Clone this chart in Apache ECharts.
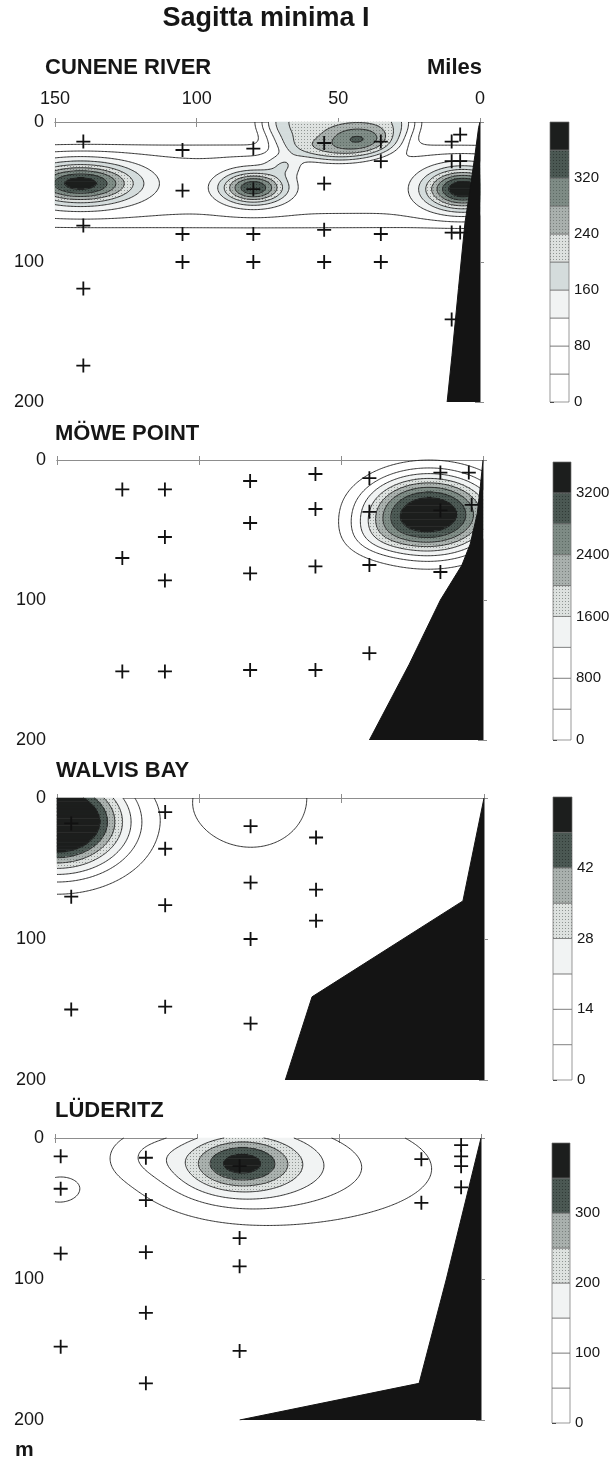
<!DOCTYPE html>
<html>
<head>
<meta charset="utf-8">
<script src="https://cdn.jsdelivr.net/npm/echarts/dist/echarts.min.js"></script>
<style>
  html, body { margin: 0; padding: 0; background: #ffffff; }
  #chart { width: 614px; height: 1461px; }
</style>
</head>
<body>
<div id="chart"></div>
<script>
// ---------------------------------------------------------------
// Sagitta minima I – vertical sections off the Namibian coast.
// Distance offshore (miles) on x, depth (m) on y.
// ---------------------------------------------------------------

const mileTicks = [150, 100, 50, 0];
const depthTicks = [0, 100, 200];

// Sampling stations [miles offshore, depth m]
const cuneneStations = [
  [140, 14], [140, 74], [140, 119], [140, 174],
  [105, 20], [105, 49], [105, 80], [105, 100],
  [80, 19], [80, 48], [80, 80], [80, 100],
  [55, 15], [55, 44], [55, 77], [55, 100],
  [35, 14], [35, 28], [35, 80], [35, 100],
  [10, 14], [7, 9], [10, 28], [7, 28], [10, 79], [7, 79], [10, 141]
];
const moweStations = [
  [127, 21], [127, 70], [127, 151],
  [112, 21], [112, 55], [112, 86], [112, 151],
  [82, 15], [82, 45], [82, 81], [82, 150],
  [59, 10], [59, 35], [59, 76], [59, 150],
  [40, 13], [40, 37], [40, 75], [40, 138],
  [15, 9], [15, 36], [15, 80],
  [5, 9], [4, 32]
];
const walvisStations = [
  [145, 18], [145, 70], [145, 150],
  [112, 10], [112, 36], [112, 76], [112, 148],
  [82, 20], [82, 60], [82, 100], [82, 160],
  [59, 28], [59, 65], [59, 87]
];
const luderitzStations = [
  [148, 13], [148, 36], [148, 82], [148, 148],
  [118, 14], [118, 44], [118, 81], [118, 124], [118, 174],
  [85, 20], [85, 71], [85, 91], [85, 151],
  [21, 15], [21, 46],
  [7, 5], [7, 13], [7, 20], [7, 35]
];

// Sea-floor profile [miles offshore, depth m]
const cuneneBottom = [[0, 0], [0.5, 4], [1.8, 24], [3.5, 48], [5.3, 72], [7.6, 119], [9.9, 167], [11.6, 200]];
const moweBottom = [[0, 0], [1, 20], [2, 38], [4.5, 60], [7.4, 75], [15, 100], [26, 146], [40, 200]];
const walvisBottom = [[0, 0], [7.4, 73], [60.4, 141], [69.8, 200]];
const luderitzBottom = [[0, 0], [12.2, 100], [21.8, 174], [85, 200]];

// Abundance patches [miles, depth, peak abundance, half-width miles, half-depth m, shape exponent]
const cunenePatches = [
  [141, 44, 300, 19, 14, 2],
  [80, 47, 275, 11, 11, 2],
  [69, 30, 70, 6, 8, 2],
  [50, 0, 215, 27, 27, 6],
  [43, 11, 100, 11, 9, 2],
  [6, 48, 320, 13, 14, 2],
  [75, 46, 85, 400, 31, 6]
];
const mowePatches = [
  [19, 39, 3650, 22.5, 28, 2.4],
  [38, 56, 330, 12, 14, 2]
];
const walvisPatches = [
  [150, 17, 58, 23, 33, 2.5],
  [150, 17, 9, 42, 58, 2],
  [80, 0, 9, 24.7, 46, 4]
];
const luderitzPatches = [
  [85, 18, 170, 17, 18, 2],
  [85, 18, 130, 30, 30, 2],
  [62, 22, 95, 55, 42, 2],
  [118, 12, 40, 14, 16, 2],
  [149, 37, 60, 11, 15, 2]
];

// Contour levels and legend tick labels
const cuneneLevels = [0, 40, 80, 120, 160, 200, 240, 280, 320, 360, 400];
const moweLevels = [0, 400, 800, 1200, 1600, 2000, 2400, 2800, 3200, 3600];
const walvisLevels = [0, 7, 14, 21, 28, 35, 42, 49, 56];
const luderitzLevels = [0, 50, 100, 150, 200, 250, 300, 350, 400];
const cuneneLegendTicks = [0, 80, 160, 240, 320];
const moweLegendTicks = [0, 800, 1600, 2400, 3200];
const walvisLegendTicks = [0, 14, 28, 42];
const luderitzLegendTicks = [0, 100, 200, 300];

// ---------------------------------------------------------------
const FONT = '"Liberation Sans", Arial, Helvetica, sans-serif';
const INK = '#161616';
const AXIS_GREY = '#8d8d8d';

function dots(bg, dot) {
  const c = document.createElement('canvas');
  c.width = 3; c.height = 3;
  const g = c.getContext('2d');
  g.fillStyle = bg; g.fillRect(0, 0, 3, 3);
  g.fillStyle = dot; g.fillRect(1, 1, 1, 1);
  return { image: c, repeat: 'repeat' };
}
const SHADE = {
  white: '#ffffff',
  pale: '#f1f3f3',
  mist: '#d4dcdc',
  stipple: dots('#dde1df', '#8f9592'),
  grey: dots('#a9b0ad', '#7a817e'),
  slate: dots('#7e8b85', '#5d6a64'),
  dark: dots('#4b5853', '#303a36'),
  black: '#1c1e1d'
};

const panels = [
  { name: 'CUNENE RIVER', stations: cuneneStations, bottom: cuneneBottom, patches: cunenePatches,
    levels: cuneneLevels, legendTicks: cuneneLegendTicks,
    shades: ['white', 'white', 'white', 'pale', 'mist', 'stipple', 'grey', 'slate', 'dark', 'black'],
    box: { left: 55, top: 122, width: 425, height: 280 }, nameX: 45, nameY: 67.5,
    bar: { left: 550, top: 122, width: 19, height: 280 }, topLabels: true },
  { name: 'MÖWE POINT', stations: moweStations, bottom: moweBottom, patches: mowePatches,
    levels: moweLevels, legendTicks: moweLegendTicks,
    shades: ['white', 'white', 'white', 'pale', 'stipple', 'grey', 'slate', 'dark', 'black'],
    box: { left: 57, top: 460, width: 426, height: 280 }, nameX: 55, nameY: 434,
    bar: { left: 553, top: 462, width: 18, height: 278 }, topLabels: false },
  { name: 'WALVIS BAY', stations: walvisStations, bottom: walvisBottom, patches: walvisPatches,
    levels: walvisLevels, legendTicks: walvisLegendTicks,
    shades: ['white', 'white', 'white', 'pale', 'stipple', 'grey', 'dark', 'black'],
    box: { left: 57, top: 798, width: 427, height: 282 }, nameX: 56, nameY: 770.5,
    bar: { left: 553, top: 797, width: 19, height: 283 }, topLabels: false },
  { name: 'LÜDERITZ', stations: luderitzStations, bottom: luderitzBottom, patches: luderitzPatches,
    levels: luderitzLevels, legendTicks: luderitzLegendTicks,
    shades: ['white', 'white', 'white', 'pale', 'stipple', 'grey', 'dark', 'black'],
    box: { left: 55, top: 1138, width: 426, height: 282 }, nameX: 55, nameY: 1111,
    bar: { left: 552, top: 1143, width: 18, height: 280 }, topLabels: false }
];

// ---- abundance surface on a regular mile/depth lattice ----
const DX = 0.5, DD = 1, MAXMILE = 150, MAXDEPTH = 200;
const NX = Math.round(MAXMILE / DX) + 1, ND = Math.round(MAXDEPTH / DD) + 1;

function surface(patches) {
  const F = [];
  for (let j = 0; j < ND; j++) {
    const d = j * DD;
    const row = new Float64Array(NX);
    for (let i = 0; i < NX; i++) {
      const m = i * DX;
      let v = 0;
      for (const [pm, pd, a, sx, sd, p] of patches) {
        const r2 = ((m - pm) / sx) ** 2 + ((d - pd) / sd) ** 2;
        v += a * Math.exp(-Math.pow(r2, p / 2));
      }
      row[i] = v;
    }
    F.push(row);
  }
  return F;
}

function bandOf(v, levels) {
  const n = levels.length - 1;
  for (let k = n - 1; k >= 0; k--) if (v >= levels[k]) return k;
  return 0;
}

// Horizontal runs of equal band, used for the shaded fill
function fillRuns(F, levels, shades) {
  const items = [];
  for (let j = 0; j < ND; j++) {
    const d0 = Math.max(0, j * DD - DD / 2), d1 = Math.min(MAXDEPTH, j * DD + DD / 2);
    let start = 0, cur = bandOf(F[j][0], levels);
    for (let i = 1; i <= NX; i++) {
      const b = i < NX ? bandOf(F[j][i], levels) : -1;
      if (b !== cur) {
        if (shades[cur] !== 'white') {
          items.push([Math.max(0, start * DX - DX / 2), Math.min(MAXMILE, (i - 1) * DX + DX / 2), d0, d1, cur]);
        }
        start = i; cur = b;
      }
    }
  }
  return items;
}

// Marching squares → polylines for one level
function isolines(F, L) {
  const segs = [];
  const hx = (i, j) => { const a = F[j][i], b = F[j][i + 1]; const t = (L - a) / (b - a); return [(i + t) * DX, j * DD]; };
  const vy = (i, j) => { const a = F[j][i], b = F[j + 1][i]; const t = (L - a) / (b - a); return [i * DX, (j + t) * DD]; };
  for (let j = 0; j < ND - 1; j++) {
    for (let i = 0; i < NX - 1; i++) {
      const a = F[j][i] >= L, b = F[j][i + 1] >= L, c = F[j + 1][i + 1] >= L, d = F[j + 1][i] >= L;
      const code = (a ? 8 : 0) | (b ? 4 : 0) | (c ? 2 : 0) | (d ? 1 : 0);
      if (code === 0 || code === 15) continue;
      const top = a !== b ? hx(i, j) : null;
      const right = b !== c ? vy(i + 1, j) : null;
      const bot = d !== c ? hx(i, j + 1) : null;
      const left = a !== d ? vy(i, j) : null;
      const pts = [top, right, bot, left].filter(Boolean);
      if (pts.length === 2) segs.push([pts[0], pts[1]]);
      else if (pts.length === 4) {
        const centre = (F[j][i] + F[j][i + 1] + F[j + 1][i + 1] + F[j + 1][i]) / 4 >= L;
        if (centre === a) { segs.push([top, right]); segs.push([bot, left]); }
        else { segs.push([top, left]); segs.push([right, bot]); }
      }
    }
  }
  // join segments sharing end points
  const key = p => p[0].toFixed(4) + '_' + p[1].toFixed(4);
  const at = new Map();
  segs.forEach((s, n) => {
    for (const e of [0, 1]) {
      const k = key(s[e]);
      if (!at.has(k)) at.set(k, []);
      at.get(k).push(n);
    }
  });
  const used = new Uint8Array(segs.length);
  const lines = [];
  for (let n = 0; n < segs.length; n++) {
    if (used[n]) continue;
    used[n] = 1;
    let line = [segs[n][0], segs[n][1]];
    for (let pass = 0; pass < 2; pass++) {
      let grow = true;
      while (grow) {
        grow = false;
        const end = line[line.length - 1], ek = key(end);
        for (const c of (at.get(ek) || [])) {
          if (used[c]) continue;
          used[c] = 1;
          const s = segs[c];
          line.push(key(s[0]) === ek ? s[1] : s[0]);
          grow = true;
          break;
        }
      }
      line.reverse();
    }
    lines.push(line);
  }
  return lines;
}

const option = {
  animation: false,
  backgroundColor: '#ffffff',
  grid: [], xAxis: [], yAxis: [], series: [],
  graphic: [
    { type: 'text', x: 266, y: 18.5, style: { text: 'Sagitta minima I', font: 'bold 27px ' + FONT, fill: INK, textAlign: 'center', textVerticalAlign: 'middle' } },
    { type: 'text', x: 482, y: 67.5, style: { text: 'Miles', font: 'bold 22px ' + FONT, fill: INK, textAlign: 'right', textVerticalAlign: 'middle' } },
    { type: 'text', x: 15, y: 1450, style: { text: 'm', font: 'bold 21px ' + FONT, fill: INK, textAlign: 'left', textVerticalAlign: 'middle' } }
  ]
};

const plus = 'path://M0,43.5H100V56.5H0Z M43.5,0H56.5V100H43.5Z';

panels.forEach((P, k) => {
  const g = 2 * k, xa = 3 * k, ya = 3 * k;
  const lv = P.levels, top = lv[lv.length - 1];

  option.graphic.push({ type: 'text', x: P.nameX, y: P.nameY,
    style: { text: P.name, font: 'bold 22px ' + FONT, fill: INK, textAlign: 'left', textVerticalAlign: 'middle' } });

  option.grid.push(Object.assign({ outerBoundsMode: 'none', containLabel: false }, P.box));
  option.grid.push(Object.assign({ outerBoundsMode: 'none', containLabel: false }, P.bar));

  const axisLine = { show: true, lineStyle: { color: AXIS_GREY, width: 1 } };
  option.xAxis.push({
    gridIndex: g, type: 'value', position: 'top', min: 0, max: MAXMILE, interval: 50, inverse: true,
    axisLine, axisTick: { show: true, length: 4, lineStyle: { color: AXIS_GREY } },
    axisLabel: { show: P.topLabels, fontSize: 18, fontFamily: FONT, color: INK, margin: 14,
      formatter: v => mileTicks.includes(v) ? String(v) : '' },
    splitLine: { show: false }
  });
  option.xAxis.push({
    gridIndex: g, type: 'value', position: 'bottom', min: 0, max: MAXMILE, interval: 50, inverse: true,
    axisLine, axisTick: { show: true, length: 5, lineStyle: { color: AXIS_GREY } },
    axisLabel: { show: false }, splitLine: { show: false }
  });
  option.xAxis.push({ gridIndex: g + 1, type: 'value', min: 0, max: 1, show: false });

  option.yAxis.push({
    gridIndex: g, type: 'value', position: 'left', min: 0, max: MAXDEPTH, interval: 100, inverse: true,
    axisLine, axisTick: { show: true, length: 5, lineStyle: { color: AXIS_GREY } },
    axisLabel: { fontSize: 18, fontFamily: FONT, color: INK, margin: 11,
      formatter: v => depthTicks.includes(v) ? String(v) : '' },
    splitLine: { show: false }
  });
  option.yAxis.push({
    gridIndex: g, type: 'value', position: 'right', min: 0, max: MAXDEPTH, interval: 100, inverse: true,
    axisLine, axisTick: { show: true, length: 4, lineStyle: { color: AXIS_GREY } },
    axisLabel: { show: false }, splitLine: { show: false }
  });
  option.yAxis.push({
    gridIndex: g + 1, type: 'value', position: 'right', min: 0, max: top, interval: P.legendTicks[1] - P.legendTicks[0],
    axisLine: { show: false },
    axisTick: { show: true, length: 4, lineStyle: { color: '#3a3a3a' } },
    axisLabel: { fontSize: 15, fontFamily: FONT, color: INK, margin: 5, showMaxLabel: false,
      formatter: v => P.legendTicks.includes(v) ? String(v) : '' },
    splitLine: { show: false }
  });

  const F = surface(P.patches);
  const runs = fillRuns(F, lv, P.shades);
  const contourLines = lv.slice(1, -1).map(L => isolines(F, L));

  // shaded abundance bands
  option.series.push({
    type: 'custom', xAxisIndex: xa, yAxisIndex: ya, z: 1, silent: true,
    data: runs,
    renderItem: (params, api) => {
      const p0 = api.coord([api.value(0), api.value(2)]);
      const p1 = api.coord([api.value(1), api.value(3)]);
      const x = Math.min(p0[0], p1[0]), y = Math.min(p0[1], p1[1]);
      return { type: 'rect', shape: { x: x - 0.3, y: y - 0.3, width: Math.abs(p1[0] - p0[0]) + 0.6, height: Math.abs(p1[1] - p0[1]) + 0.6 },
        style: { fill: SHADE[P.shades[api.value(4)]] } };
    }
  });

  // isolines
  option.series.push({
    type: 'custom', xAxisIndex: xa, yAxisIndex: ya, z: 2, silent: true,
    data: contourLines.map((_, n) => [n]),
    renderItem: (params, api) => {
      const lines = contourLines[params.dataIndex];
      return { type: 'group', children: lines.map(line => ({
        type: 'polyline', shape: { points: line.map(p => api.coord(p)) },
        style: { stroke: '#1e1e1e', lineWidth: 0.9, fill: null }
      })) };
    }
  });

  // sea floor
  option.series.push({
    type: 'line', xAxisIndex: xa, yAxisIndex: ya, z: 3, silent: true,
    data: P.bottom, symbol: 'none', smooth: false,
    lineStyle: { color: '#141414', width: 1 },
    areaStyle: { color: '#141414', opacity: 1, origin: 'end' }
  });

  // stations
  option.series.push({
    type: 'scatter', xAxisIndex: xa, yAxisIndex: ya, z: 4, silent: true,
    data: P.stations, symbol: plus, symbolSize: 14,
    itemStyle: { color: '#111111', opacity: 1 }
  });

  // legend bar
  const bands = lv.slice(0, -1).map((lo, n) => [lo, lv[n + 1], n]);
  option.series.push({
    type: 'custom', xAxisIndex: xa + 2, yAxisIndex: ya + 2, z: 2, silent: true,
    data: bands,
    renderItem: (params, api) => {
      const p0 = api.coord([0, api.value(1)]);
      const p1 = api.coord([1, api.value(0)]);
      return { type: 'rect', shape: { x: p0[0], y: p0[1], width: p1[0] - p0[0], height: p1[1] - p0[1] },
        style: { fill: SHADE[P.shades[api.value(2)]], stroke: '#6e6e6e', lineWidth: 0.7 } };
    }
  });
});

const chart = echarts.init(document.getElementById('chart'), null, { renderer: 'canvas' });
chart.setOption(option);
</script>
</body>
</html>
